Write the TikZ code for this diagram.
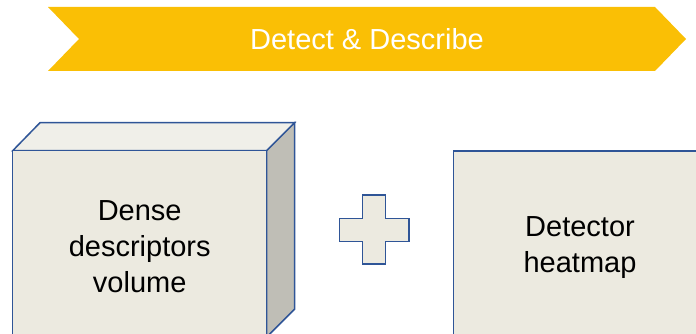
\documentclass[tikz,border=0pt]{standalone}
\usepackage{fontspec}
\setmainfont{Liberation Sans}
\definecolor{gold}{HTML}{FABF05}
\definecolor{edge}{HTML}{2F5597}
\definecolor{facefront}{HTML}{ECEAE0}
\definecolor{facetop}{HTML}{F0EFE9}
\definecolor{faceside}{HTML}{BFBEB6}
\tikzset{
  x=1pt, y=1pt,
  facestyle/.style={draw=edge, line width=1.5pt, line join=miter},
  bigtext/.style={font=\fontsize{29}{36}\selectfont, align=center, text=black, inner sep=0pt},
}
\begin{document}
\begin{tikzpicture}
\useasboundingbox (0,0) rectangle (696,334);
\clip (0,0) rectangle (696,334);
% banner
\fill[gold] (48,327) -- (655,327) -- (686,295) -- (655,263) -- (48,263) -- (79,295) -- cycle;
\node[bigtext, text=white] (banner) at (367,294.5) {Detect \& Describe};
% cube
\path[facestyle, fill=facetop] (12.7,183.3) -- (40,211.3) -- (294.7,211.3) -- (266.7,183.3) -- cycle;
\path[facestyle, fill=faceside] (266.7,183.3) -- (294.7,211.3) -- (294.7,25) -- (266.7,-3) -- cycle;
\path[facestyle, fill=facefront] (12.7,183.3) rectangle (266.7,-20);
\node[bigtext] (dense) at (139.7,87) {Dense\\descriptors\\volume};
% plus
\path[facestyle, fill=facefront] (362.7,139) -- (385.3,139) -- (385.3,115.7) -- (409,115.7) -- (409,92.7)
  -- (385.3,92.7) -- (385.3,70) -- (362.7,70) -- (362.7,92.7) -- (339.3,92.7) -- (339.3,115.7)
  -- (362.7,115.7) -- cycle;
\path[facestyle, fill=facefront] (453.3,183) rectangle (720,-20);
\node[bigtext] (heat) at (580,86.5) {Detector\\heatmap};
\end{tikzpicture}
\end{document}
